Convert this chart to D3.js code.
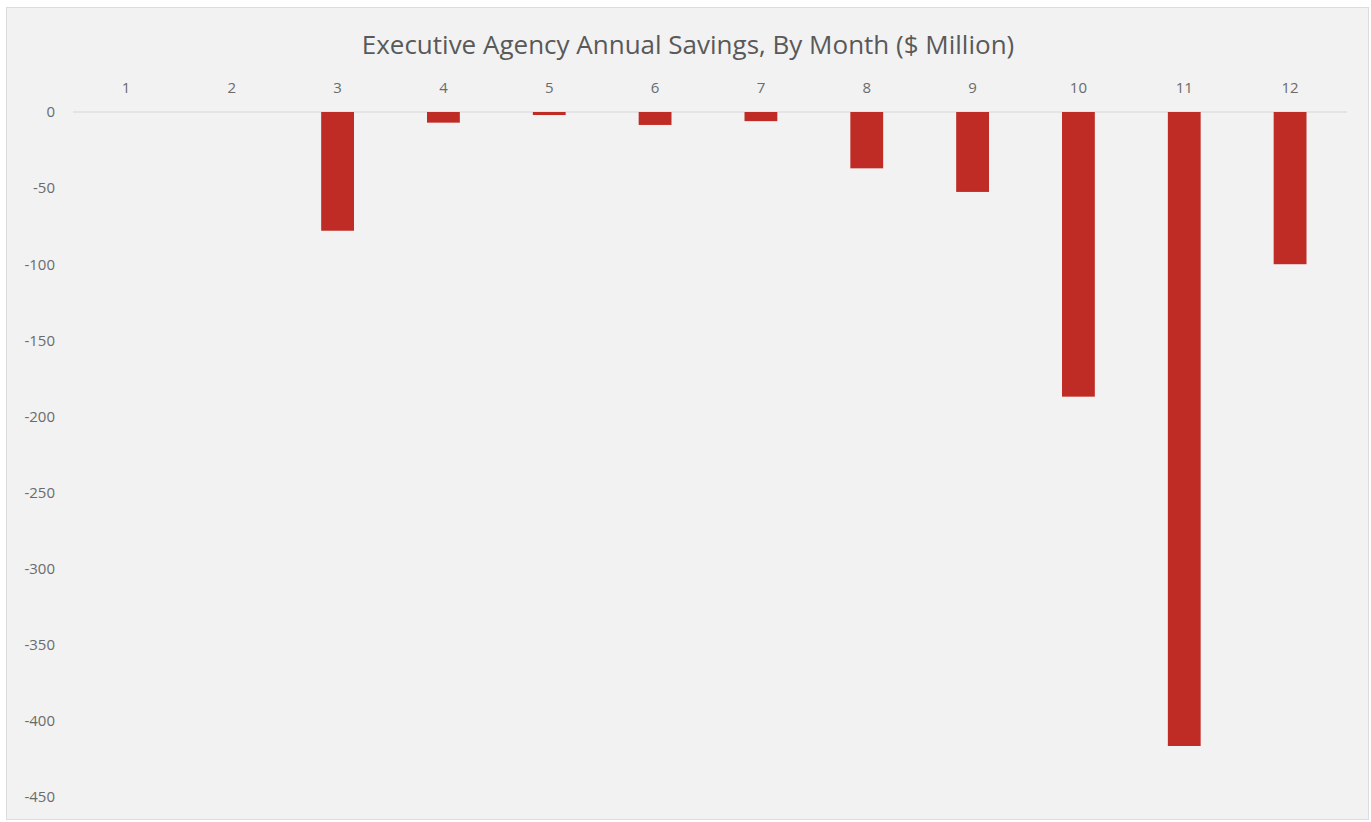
<!DOCTYPE html>
<html lang="en">
<head>
    <meta charset="UTF-8">
    <title>Executive Agency Annual Savings</title>
    <script src="https://d3js.org/d3.v7.min.js"></script>
    <style>
        body { margin: 0; background: #ffffff; }
        text { font-family: "Open Sans", "Noto Sans", sans-serif; }
    </style>
</head>
<body>
    <div id="chart"></div>
    <script>
        // Months and savings ($ million)
        const months = ["1", "2", "3", "4", "5", "6", "7", "8", "9", "10", "11", "12"];
        const savings = [0, 0, -78, -7, -2, -8.5, -6, -37, -52.5, -187, -416.5, -100];
        const yTicks = [0, -50, -100, -150, -200, -250, -300, -350, -400, -450];
        const title = "Executive Agency Annual Savings, By Month ($ Million)";

        const width = 1371, height = 822;

        const svg = d3.select("#chart")
            .append("svg")
            .attr("width", width)
            .attr("height", height);

        // chart panel
        svg.append("rect")
            .attr("x", 6.5)
            .attr("y", 7.5)
            .attr("width", 1362)
            .attr("height", 812)
            .attr("fill", "#f2f2f2")
            .attr("stroke", "#dcdcdc");

        const x = d3.scaleBand()
            .domain(months)
            .range([73, 1343])
            .paddingInner(0.69)
            .paddingOuter(0.345);

        const y = d3.scaleLinear()
            .domain([0, -450])
            .range([112, 797]);

        svg.append("text")
            .attr("x", 688)
            .attr("y", 54)
            .attr("text-anchor", "middle")
            .attr("font-size", 26)
            .attr("fill", "#595959")
            .text(title);

        // category labels on top
        const xAxis = svg.append("g")
            .attr("transform", "translate(0,93)")
            .call(d3.axisTop(x).tickSize(0).tickPadding(0));
        xAxis.select(".domain").remove();
        xAxis.selectAll("text")
            .attr("font-size", 15)
            .attr("fill", "#6b6b6b")
            .style("font-family", "\"Open Sans\", sans-serif");

        // value labels on the left, plain hyphen for the minus sign
        const yAxis = svg.append("g")
            .attr("transform", "translate(55,0)")
            .call(d3.axisLeft(y).tickValues(yTicks).tickSize(0).tickPadding(0)
                .tickFormat(d => String(d)));
        yAxis.select(".domain").remove();
        yAxis.selectAll("text")
            .attr("font-size", 15)
            .attr("fill", "#6b6b6b")
            .style("font-family", "\"Open Sans\", sans-serif");

        // zero line
        svg.append("line")
            .attr("x1", 73)
            .attr("x2", 1347)
            .attr("y1", y(0))
            .attr("y2", y(0))
            .attr("stroke", "#d6d6d6")
            .attr("stroke-width", 1);

        svg.selectAll(".bar")
            .data(months.map((m, i) => ({ month: m, value: savings[i] })))
            .enter()
            .append("rect")
            .attr("class", "bar")
            .attr("x", d => x(d.month))
            .attr("y", d => y(Math.max(0, d.value)))
            .attr("width", x.bandwidth())
            .attr("height", d => Math.abs(y(d.value) - y(0)))
            .attr("fill", "#bf2b25");
    </script>
</body>
</html>
